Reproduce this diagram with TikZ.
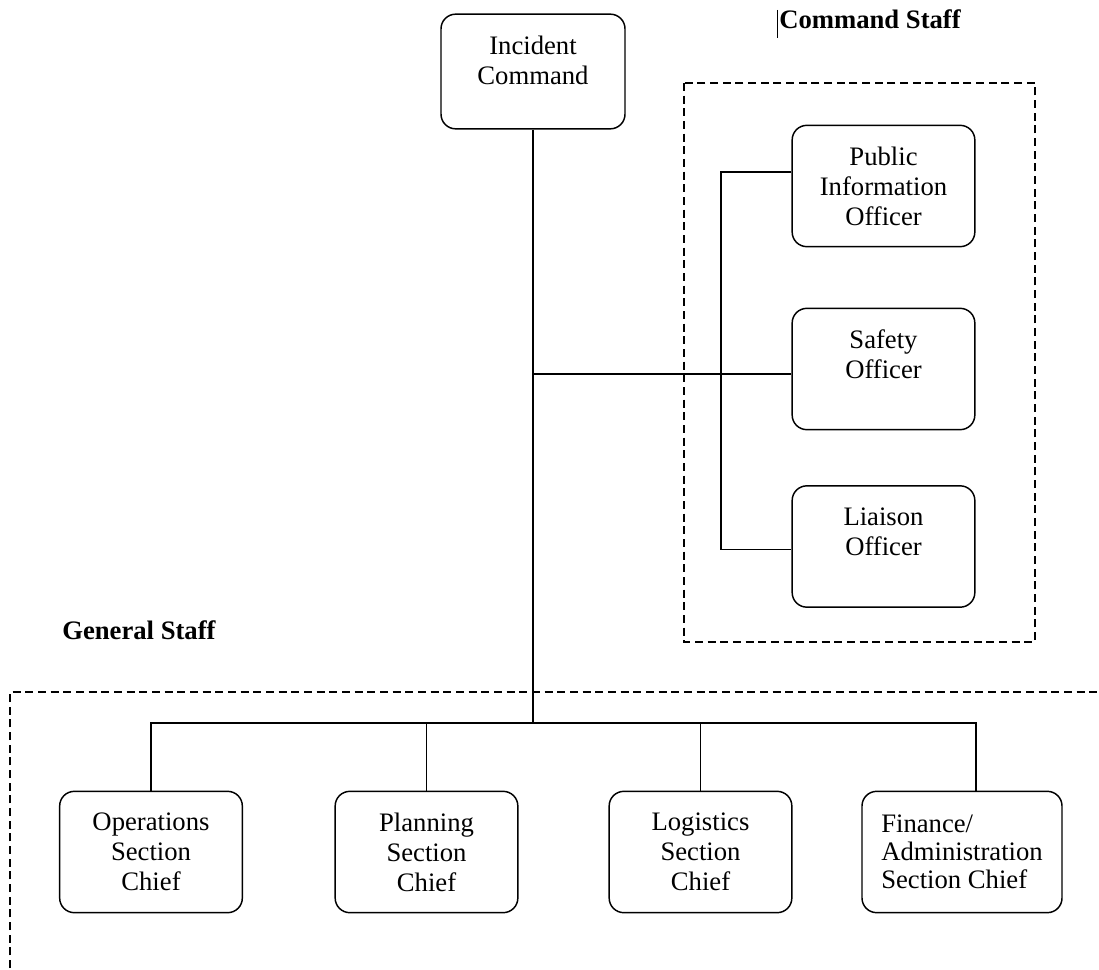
\documentclass[tikz,border=0pt]{standalone}
\usepackage{fontspec}
\setmainfont{Liberation Serif}
\usepackage{tikz}

\tikzset{
  staffbox/.style={draw, line width=1.1pt, rounded corners=11pt, align=center,
    inner sep=2pt, font=\fontsize{20}{22.5}\selectfont},
  link/.style={line width=0.9pt},
  groupline/.style={line width=0.8pt, dash pattern=on 6pt off 3.5pt},
  grouptitle/.style={anchor=base west, inner sep=0pt, font=\fontsize{20}{24}\selectfont\bfseries}
}

\begin{document}
\begin{tikzpicture}[x=0.75pt, y=-0.75pt]
            \useasboundingbox (0,0) rectangle (1099,970);
            % command staff group
            \draw[groupline] (684,83) rectangle (1035,642);
            \node[grouptitle] (cstitle) at (779,29) {Command Staff};
            \draw[line width=0.7pt] (777,10) -- (777,38);
            % general staff group
            \node[grouptitle] (gstitle) at (62,639) {General Staff};
            \draw[groupline] (10,968) -- (10,692) -- (1099,692);
            % boxes
            \node[staffbox, minimum width=138pt, minimum height=86pt] (ic) at (533,71.5) {Incident\\Command\\[-12pt] \strut};
            \node[staffbox, minimum width=137pt, minimum height=91pt] (pio) at (883.5,186) {Public\\Information\\Officer};
            \node[staffbox, minimum width=137pt, minimum height=91pt] (so) at (883.5,369) {Safety\\Officer\\[-6.75pt] \strut};
            \node[staffbox, minimum width=137pt, minimum height=91pt] (lo) at (883.5,546.5) {Liaison\\Officer\\[-6.75pt] \strut};
            \node[staffbox, minimum width=137pt, minimum height=91pt] (op) at (151,852) {Operations\\Section\\Chief};
            \node[staffbox, minimum width=137pt, minimum height=91pt] (pl) at (426.5,852) {Planning\\Section\\Chief};
            \node[staffbox, minimum width=137pt, minimum height=91pt] (lg) at (700.5,852) {Logistics\\Section\\Chief};
            \node[staffbox, minimum width=150pt, minimum height=91pt, align=left, inner xsep=12pt,
                  font=\fontsize{20}{21}\selectfont] (fa) at (962,852) {Finance/\\Administration\\Section Chief};
            % connectors
            \coordinate (hub) at (533,723);
            \coordinate (cs) at (533,374);
            \coordinate (br) at (721,374);
            \draw[link] (ic.south) -- (hub);
            \draw[link] (cs) -- (so.west |- cs);
            \draw[link] ([yshift=10.5pt]pio.west) -| (br) |- ([yshift=-2.5pt]lo.west);
            \draw[link] (op.north) |- (hub) -| ([xshift=10.5pt]fa.north);
            \draw[link] (pl.north) -- (pl.north |- hub);
            \draw[link] (lg.north) -- (lg.north |- hub);
        \end{tikzpicture}
\end{document}
